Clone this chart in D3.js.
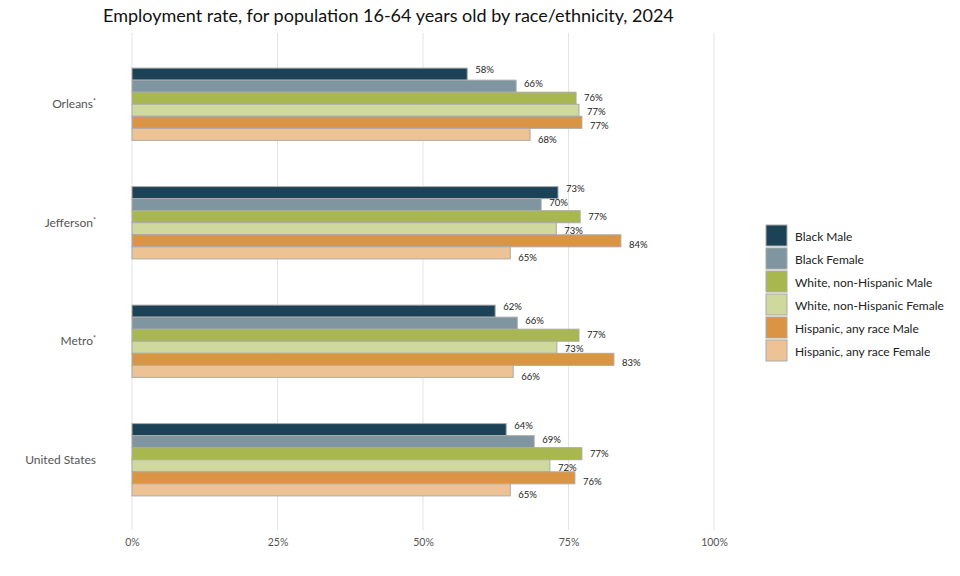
<!DOCTYPE html>
<html>
<head>
<meta charset="utf-8">
<script src="https://cdn.jsdelivr.net/npm/d3@7"></script>
<style>
  body { margin: 0; background: #fff; }
  text { font-family: Lato, "Noto Sans", sans-serif; }
</style>
</head>
<body>
<div id="chart"></div>
<script>
// chart data
var places = ["Orleans", "Jefferson", "Metro", "United States"];
var marked = ["Orleans", "Jefferson", "Metro"];
var series = ["Black Male", "Black Female", "White, non-Hispanic Male",
    "White, non-Hispanic Female", "Hispanic, any race Male", "Hispanic, any race Female"];
var blackMale = [0.576, 0.732, 0.624, 0.643];
var blackFemale = [0.660, 0.703, 0.662, 0.691];
var whiteMale = [0.763, 0.770, 0.768, 0.773];
var whiteFemale = [0.768, 0.729, 0.730, 0.718];
var hispMale = [0.773, 0.840, 0.828, 0.761];
var hispFemale = [0.684, 0.650, 0.655, 0.650];
var xTicks = [0, 0.25, 0.5, 0.75, 1];
var colors = ["#1b4256", "#7f95a0", "#a8b84f", "#cfd99e", "#db9443", "#edc396"];

var values = [blackMale, blackFemale, whiteMale, whiteFemale, hispMale, hispFemale];

var width = 960, height = 576;
var margins = {top: 45, left: 132, right: 246, bottom: 57};

var svg = d3.select("#chart").append("svg")
    .attr("width", width)
    .attr("height", height);

svg.append("text")
    .attr("x", 103)
    .attr("y", 22)
    .attr("font-size", 18)
    .attr("fill", "#111")
    .text("Employment rate, for population 16-64 years old by race/ethnicity, 2024");

var x = d3.scaleLinear()
    .domain([0, 1])
    .range([margins.left, width - margins.right]);

var y = d3.scaleBand()
    .domain(places)
    .range([margins.top, height - margins.bottom])
    .paddingInner(0.39)
    .paddingOuter(0.195);

var yInner = d3.scaleBand()
    .domain(series)
    .range([0, y.bandwidth()]);

// labels spread a little wider than the bars
var labelSpread = y.bandwidth() * 1.16;
var yLabel = d3.scaleBand()
    .domain(series)
    .range([-(labelSpread - y.bandwidth()) / 2 + 0.5, y.bandwidth() + (labelSpread - y.bandwidth()) / 2 + 0.5]);

// grid
svg.append("g").attr("class", "grid")
    .selectAll("line")
    .data(xTicks)
    .enter().append("line")
    .attr("x1", function (d) { return x(d); })
    .attr("x2", function (d) { return x(d); })
    .attr("y1", 33)
    .attr("y2", 530)
    .attr("stroke", "#e3e3e3")
    .attr("stroke-width", 1);

var xAxis = d3.axisBottom(x)
    .tickValues(xTicks)
    .tickSize(0)
    .tickFormat(d3.format(".0%"));

var xg = svg.append("g")
    .attr("transform", "translate(0," + 536 + ")")
    .call(xAxis);
xg.select(".domain").remove();
xg.selectAll("text")
    .attr("font-family", "Lato, 'Noto Sans', sans-serif")
    .attr("font-size", 10.5)
    .attr("fill", "#555");

// y labels
var yl = svg.append("g").selectAll("text")
    .data(places)
    .enter().append("text")
    .attr("x", 96)
    .attr("y", function (d) { return y(d) + y.bandwidth() / 2; })
    .attr("dy", "0.35em")
    .attr("text-anchor", "end")
    .attr("font-size", 12)
    .attr("fill", "#555");
yl.append("tspan").text(function (d) { return d; });
yl.filter(function (d) { return marked.indexOf(d) >= 0; })
    .append("tspan")
    .attr("font-size", 7)
    .attr("dy", "-0.6em")
    .text("*");

// bars
var groups = svg.append("g").selectAll("g.group")
    .data(places)
    .enter().append("g")
    .attr("class", "group")
    .attr("transform", function (d) { return "translate(0," + y(d) + ")"; });

function rows(d, i) {
    return series.map(function (s, j) {
        return {place: d, series: s, value: values[j][i], idx: j};
    });
}

groups.selectAll("rect")
    .data(rows)
    .enter().append("rect")
    .attr("x", x(0))
    .attr("y", function (d) { return yInner(d.series); })
    .attr("width", function (d) { return x(d.value) - x(0); })
    .attr("height", yInner.bandwidth())
    .attr("fill", function (d) { return colors[d.idx]; })
    .attr("stroke", "#aaa")
    .attr("stroke-width", 1);

groups.selectAll("text.val")
    .data(rows)
    .enter().append("text")
    .attr("class", "val")
    .attr("x", function (d) { return x(d.value) + 8; })
    .attr("y", function (d) { return yLabel(d.series) + yLabel.bandwidth() / 2; })
    .attr("dy", "0.35em")
    .attr("font-size", 9.5)
    .attr("fill", "#222")
    .text(function (d) { return d3.format(".0%")(d.value); });

// legend
var legend = svg.append("g")
    .attr("transform", "translate(766,225)");

var item = legend.selectAll("g")
    .data(series)
    .enter().append("g")
    .attr("transform", function (d, i) { return "translate(0," + (i * 23) + ")"; });

item.append("rect")
    .attr("width", 21)
    .attr("height", 21)
    .attr("fill", function (d, i) { return colors[i]; })
    .attr("stroke", "#aaa")
    .attr("stroke-width", 1);

item.append("text")
    .attr("x", 29)
    .attr("y", 12)
    .attr("dy", "0.35em")
    .attr("font-size", 12)
    .attr("fill", "#222")
    .text(function (d) { return d; });
</script>
</body>
</html>
